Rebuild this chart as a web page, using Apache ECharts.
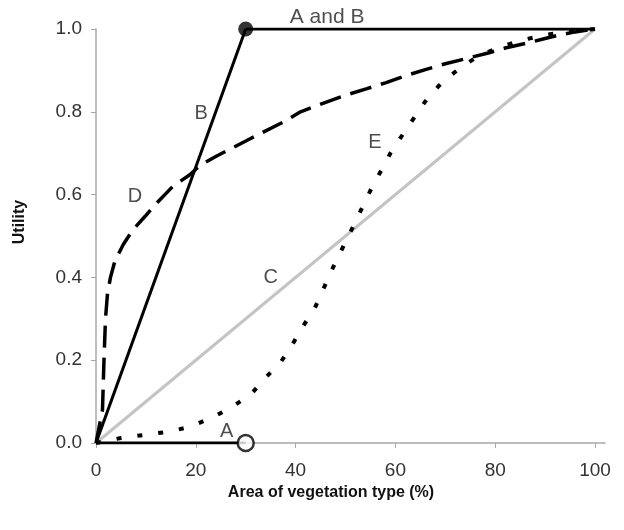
<!DOCTYPE html>
<html>
<head>
<meta charset="utf-8">
<title>Utility curves</title>
<script src="https://cdn.jsdelivr.net/npm/echarts@6/dist/echarts.min.js"></script>
<style>
  html, body { margin: 0; padding: 0; background: #fff; }
  #chart { width: 624px; height: 530px; }
</style>
</head>
<body>
<div id="chart"></div>
<script>
// tick labels
var xTicks = [0, 20, 40, 60, 80, 100]

// curves, [area %, utility]
var curveA = [[0, 0], [30, 0]]
var curveAB = [[30, 1], [100, 1]]
var curveB = [[0, 0], [30, 1]]
var curveC = [[0, 0], [100, 1]]
var curveD = [
  [0, 0], [1.3, 0.08], [1.6, 0.2], [1.9, 0.3], [2.3, 0.36], [2.9, 0.4], [3.8, 0.44],
  [5.5, 0.48], [7.4, 0.515], [9.8, 0.547], [12.2, 0.58], [15.4, 0.62], [18.8, 0.648],
  [21, 0.672], [24, 0.692], [30.9, 0.735], [37.5, 0.775], [41, 0.8], [46.3, 0.824],
  [50, 0.84], [54.3, 0.856], [58, 0.87], [62.3, 0.888], [66, 0.902], [70, 0.916],
  [74, 0.928], [78.6, 0.942], [82, 0.954], [86.4, 0.966], [90, 0.977], [93, 0.986],
  [96, 0.993], [100, 1]
]
var curveE = [
  [0, 0], [5, 0.012], [10, 0.02], [15, 0.028], [19, 0.04], [23, 0.06], [27, 0.085],
  [31, 0.117], [34, 0.158], [37, 0.195], [39.3, 0.237], [41.5, 0.282], [44, 0.33],
  [47.5, 0.424], [51, 0.51], [55, 0.61], [59, 0.7], [62, 0.755], [64, 0.79],
  [66.5, 0.834], [69.5, 0.873], [73, 0.906], [76, 0.93], [80, 0.952], [85, 0.972],
  [90, 0.986], [100, 1]
]
var openPoint = [[30, 0]]
var closedPoint = [[30, 1]]

// curve names written on the plot: [text, x, y]
var curveLabels = [
  ['B', 21.1, 0.797],
  ['D', 7.8, 0.595],
  ['C', 35, 0.4],
  ['E', 55.9, 0.727],
  ['A', 26.2, 0.029]
]
var topLabel = [['A and B', 46.3, 1]]

var font = 'Arial, "Liberation Sans", sans-serif'

var chart = echarts.init(document.getElementById('chart'))

function lineSeries(data, style) {
  return {
    type: 'line',
    data: data,
    showSymbol: false,
    symbol: 'none',
    silent: true,
    animation: false,
    lineStyle: style
  }
}

chart.setOption({
  backgroundColor: '#fff',
  animation: false,
  grid: {
    left: 96,
    right: 19,
    top: 29,
    bottom: 87,
    containLabel: false,
    outerBoundsMode: 'none'
  },
  xAxis: {
    type: 'value',
    min: 0,
    max: 102,
    name: 'Area of vegetation type (%)',
    nameLocation: 'middle',
    nameGap: 42,
    nameTextStyle: {
      fontFamily: font,
      fontSize: 16,
      fontWeight: 'bold',
      color: '#111',
      padding: [0, 39, 0, 0]
    },
    splitLine: { show: false },
    axisLine: { lineStyle: { color: '#a8a8a8', width: 1.5 } },
    axisTick: {
      customValues: xTicks,
      length: 5,
      lineStyle: { color: '#a8a8a8', width: 1 }
    },
    axisLabel: {
      customValues: xTicks,
      margin: 18,
      fontFamily: font,
      fontSize: 19,
      color: '#333'
    }
  },
  yAxis: {
    type: 'value',
    min: 0,
    max: 1,
    interval: 0.2,
    name: 'Utility',
    nameLocation: 'middle',
    nameRotate: 90,
    nameGap: 68,
    nameTextStyle: {
      fontFamily: font,
      fontSize: 16,
      fontWeight: 'bold',
      color: '#111',
      padding: [0, 0, 0, 28]
    },
    splitLine: { show: false },
    axisLine: { show: true, lineStyle: { color: '#a8a8a8', width: 1.5 } },
    axisTick: { show: true, length: 5, lineStyle: { color: '#a8a8a8', width: 1 } },
    axisLabel: {
      margin: 14,
      fontFamily: font,
      fontSize: 19,
      color: '#333',
      formatter: function (v) { return v.toFixed(1) }
    }
  },
  series: [
    lineSeries(curveC, { color: '#c4c4c4', width: 3 }),
    lineSeries(curveE, { color: '#000', width: 4, type: [5, 16] }),
    lineSeries(curveD, { color: '#000', width: 3.5, type: [22, 10] }),
    lineSeries(curveA, { color: '#000', width: 3 }),
    lineSeries(curveB, { color: '#000', width: 3 }),
    lineSeries(curveAB, { color: '#000', width: 3 }),
    {
      type: 'scatter',
      data: openPoint,
      symbol: 'circle',
      symbolSize: 16,
      silent: true,
      itemStyle: { color: '#fff', borderColor: '#000', borderWidth: 2.5 },
      z: 5
    },
    {
      type: 'scatter',
      data: closedPoint,
      symbol: 'circle',
      symbolSize: 15,
      silent: true,
      itemStyle: { color: '#000' },
      z: 5
    },
    {
      type: 'scatter',
      data: curveLabels.map(function (d) { return { value: [d[1], d[2]], name: d[0] } }),
      symbolSize: 0,
      silent: true,
      label: {
        show: true,
        position: 'inside',
        formatter: '{b}',
        fontFamily: font,
        fontSize: 20,
        color: '#222'
      },
      z: 6
    },
    {
      type: 'scatter',
      data: topLabel.map(function (d) { return { value: [d[1], d[2]], name: d[0] } }),
      symbolSize: 0,
      silent: true,
      clip: false,
      label: {
        show: true,
        position: 'top',
        distance: 1,
        formatter: '{b}',
        fontFamily: font,
        fontSize: 21,
        color: '#222'
      },
      z: 6
    }
  ]
})
</script>
</body>
</html>
